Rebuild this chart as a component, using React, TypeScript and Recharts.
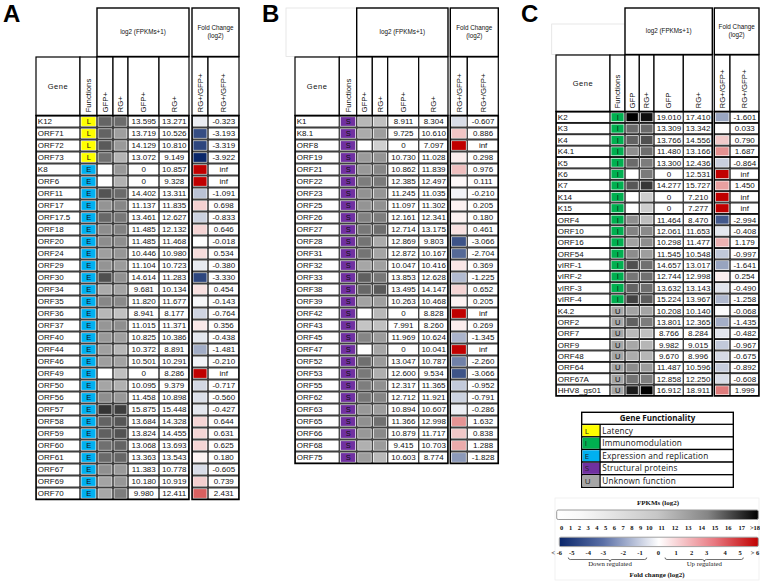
import React from 'react';
import { ScatterChart, Scatter, XAxis, YAxis } from 'recharts';

const W = 760;
const H = 581;
const SANS = '"Liberation Sans", Arial, sans-serif';
const SERIF = '"Liberation Serif", "Times New Roman", serif';
const LEG = '"Open Sans", "Noto Sans", sans-serif';
const INF = Infinity;

// ---------- Panel A : latency + expression/replication ----------
const genesA = ['K12', 'ORF71', 'ORF72', 'ORF73', 'K8', 'ORF6', 'ORF11', 'ORF17', 'ORF17.5', 'ORF18', 'ORF20', 'ORF24', 'ORF29', 'ORF30', 'ORF34', 'ORF35', 'ORF36', 'ORF37', 'ORF40', 'ORF44', 'ORF46', 'ORF49', 'ORF50', 'ORF56', 'ORF57', 'ORF58', 'ORF59', 'ORF60', 'ORF61', 'ORF67', 'ORF69', 'ORF70'];
const funcsA = ['L', 'L', 'L', 'L', 'E', 'E', 'E', 'E', 'E', 'E', 'E', 'E', 'E', 'E', 'E', 'E', 'E', 'E', 'E', 'E', 'E', 'E', 'E', 'E', 'E', 'E', 'E', 'E', 'E', 'E', 'E', 'E'];
const gfpA = [13.595, 13.719, 14.129, 13.072, 0, 0, 14.402, 11.137, 13.461, 11.485, 11.485, 10.446, 11.104, 14.614, 9.681, 11.820, 8.941, 11.015, 10.825, 10.372, 10.501, 0, 10.095, 11.458, 15.875, 13.684, 13.824, 13.068, 13.363, 11.383, 10.180, 9.980];
const rgA = [13.271, 10.526, 10.810, 9.149, 10.857, 9.328, 13.311, 11.835, 12.627, 12.132, 11.468, 10.980, 10.723, 11.283, 10.134, 11.677, 8.177, 11.371, 10.386, 8.891, 10.291, 8.286, 9.379, 10.898, 15.448, 14.328, 14.455, 13.693, 13.543, 10.778, 10.919, 12.411];
const fcA = [-0.323, -3.193, -3.319, -3.922, INF, INF, -1.091, 0.698, -0.833, 0.646, -0.018, 0.534, -0.380, -3.330, 0.454, -0.143, -0.764, 0.356, -0.438, -1.481, -0.210, INF, -0.717, -0.560, -0.427, 0.644, 0.631, 0.625, 0.180, -0.605, 0.739, 2.431];

// ---------- Panel B : structural proteins ----------
const genesB = ['K1', 'K8.1', 'ORF8', 'ORF19', 'ORF21', 'ORF22', 'ORF23', 'ORF25', 'ORF26', 'ORF27', 'ORF28', 'ORF31', 'ORF32', 'ORF33', 'ORF38', 'ORF39', 'ORF42', 'ORF43', 'ORF45', 'ORF47', 'ORF52', 'ORF53', 'ORF55', 'ORF62', 'ORF63', 'ORF65', 'ORF66', 'ORF68', 'ORF75'];
const funcsB = genesB.map(() => 'S');
const gfpB = [8.911, 9.725, 0, 10.730, 10.862, 12.385, 11.245, 11.097, 12.161, 12.714, 12.869, 12.872, 10.047, 13.853, 13.495, 10.263, 0, 7.991, 11.969, 0, 13.047, 12.600, 12.317, 12.712, 10.894, 11.366, 10.879, 9.415, 10.603];
const rgB = [8.304, 10.610, 7.097, 11.028, 11.839, 12.497, 11.035, 11.302, 12.341, 13.175, 9.803, 10.167, 10.416, 12.628, 14.147, 10.468, 8.828, 8.260, 10.624, 10.041, 10.787, 9.534, 11.365, 11.921, 10.607, 12.998, 11.717, 10.703, 8.774];
const fcB = [-0.607, 0.886, INF, 0.298, 0.976, 0.111, -0.210, 0.205, 0.180, 0.461, -3.066, -2.704, 0.369, -1.225, 0.652, 0.205, INF, 0.269, -1.345, INF, -2.260, -3.066, -0.952, -0.791, -0.286, 1.632, 0.838, 1.288, -1.828];

// ---------- Panel C : immunomodulation + unknown ----------
const genesC = ['K2', 'K3', 'K4', 'K4.1', 'K5', 'K6', 'K7', 'K14', 'K15', 'ORF4', 'ORF10', 'ORF16', 'ORF54', 'vIRF-1', 'vIRF-2', 'vIRF-3', 'vIRF-4', 'K4.2', 'ORF2', 'ORF7', 'ORF9', 'ORF48', 'ORF64', 'ORF67A', 'HHV8_gs01'];
const funcsC = ['I', 'I', 'I', 'I', 'I', 'I', 'I', 'I', 'I', 'I', 'I', 'I', 'I', 'I', 'I', 'I', 'I', 'U', 'U', 'U', 'U', 'U', 'U', 'U', 'U'];
const gfpC = [19.010, 13.309, 13.766, 11.480, 13.300, 0, 14.277, 0, 0, 11.464, 12.061, 10.298, 11.545, 14.657, 12.744, 13.632, 15.224, 10.208, 13.801, 8.766, 9.982, 9.670, 11.487, 12.858, 16.912];
const rgC = [17.410, 13.342, 14.556, 13.166, 12.436, 12.531, 15.727, 7.210, 7.277, 8.470, 11.653, 11.477, 10.548, 13.017, 12.998, 13.143, 13.967, 10.140, 12.365, 8.284, 9.015, 8.996, 10.596, 12.250, 18.911];
const fcC = [-1.601, 0.033, 0.790, 1.687, -0.864, INF, 1.450, INF, INF, -2.994, -0.408, 1.179, -0.997, -1.641, 0.254, -0.490, -1.258, -0.068, -1.435, -0.482, -0.967, -0.675, -0.892, -0.608, 1.999];

// ---------- header / legend texts ----------
const headsAB = ['GFP+', 'RG+', 'GFP+', 'RG+'];
const headsC = ['GFP', 'RG+', 'GFP', 'RG+'];
const legendCodes = ['L', 'I', 'E', 'S', 'U'];
const legendNames = ['Latency', 'Immunomodulation', 'Expression and replication', 'Structural proteins', 'Unknown function'];
const fpkmTicks = ['0', '1', '2', '3', '4', '5', '6', '7', '8', '9', '10', '11', '12', '13', '14', '15', '16', '17', '>18'];
const fcTicks = ['< -6', '-5', '-4', '-3', '-2', '-1', '0', '1', '2', '3', '4', '5', '> 6'];

// ---------- styling / layout (not data) ----------
const FUNC_COLORS: Record<string, string> = { L: '#ffff00', I: '#00b050', E: '#00b0f0', S: '#7030a0', U: '#a6a6a6' };
const fpkmTickX = [561.7, 570.5, 579.3, 588, 596.8, 605.5, 614.3, 623, 631.8, 640.5, 649.3, 661.7, 675, 688.3, 701.7, 715, 728.3, 741.7, 755];
const fcTickX = [556.7, 571.7, 588.3, 603.3, 623.3, 640, 658.3, 676, 691.7, 706.7, 725, 740, 755];

type Layout = {
  label: string; labelX: number; edges: number[];
  headTop: number; headBottom: number; rowsTop: number; rowsBottom: number;
  faint?: number[]; heads: string[];
};
type PanelData = { genes: string[]; funcs: string[]; gfp: number[]; rg: number[]; fc: number[] };

const layoutA: Layout = { label: 'A', labelX: 3, edges: [36, 80, 97, 113, 128, 159, 189, 192, 208, 239], headTop: 8, headBottom: 56.5, rowsTop: 115.5, rowsBottom: 499.5, heads: headsAB };
const layoutB: Layout = { label: 'B', labelX: 262, edges: [295, 339.3, 356.7, 372.3, 387.7, 418.7, 448, 450.3, 467.3, 498.3], headTop: 8, headBottom: 56.5, rowsTop: 115.5, rowsBottom: 463.5, faint: [286, 8, 357.7, 56.5], heads: headsAB };
const layoutC: Layout = { label: 'C', labelX: 521, edges: [556, 610, 625, 639.3, 654, 683.3, 712.3, 714.3, 730, 759], headTop: 8, headBottom: 54.5, rowsTop: 111.5, rowsBottom: 396, faint: [551.7, 24, 625, 54.5], heads: headsC };

const dataA: PanelData = { genes: genesA, funcs: funcsA, gfp: gfpA, rg: rgA, fc: fcA };
const dataB: PanelData = { genes: genesB, funcs: funcsB, gfp: gfpB, rg: rgB, fc: fcB };
const dataC: PanelData = { genes: genesC, funcs: funcsC, gfp: gfpC, rg: rgC, fc: fcC };

function grayFor(v: number): string {
  if (v <= 0) return '#ffffff';
  const t = Math.pow(Math.min(v / 18, 1), 1.8);
  const g = Math.round(255 * (1 - t));
  return `rgb(${g},${g},${g})`;
}
function fcColor(v: number): string {
  if (!isFinite(v)) return '#c00000';
  const t = Math.min(Math.abs(v) / 3.9, 1);
  const end = v < 0 ? [10, 38, 104] : [192, 0, 0];
  const m = (a: number) => Math.round(255 + (a - 255) * t);
  return `rgb(${m(end[0])},${m(end[1])},${m(end[2])})`;
}
const fmt = (v: number) => (!isFinite(v) ? 'inf' : v === 0 ? '0' : v.toFixed(3));

function buildCells(p: Layout, d: PanelData) {
  const e = p.edges;
  const left = e[0];
  const h = (p.rowsBottom - p.rowsTop) / d.genes.length;
  const cells: any[] = [];
  d.genes.forEach((g, i) => {
    const y = i + 0.5;
    const add = (a: number, b: number, extra: any) =>
      cells.push({ x: (e[a] + e[b]) / 2 - left, y, w: e[b] - e[a], h, ...extra });
    add(0, 1, { text: g, align: 'left' });
    add(1, 2, { fill: FUNC_COLORS[d.funcs[i]], text: d.funcs[i], small: true });
    add(2, 3, { fill: grayFor(d.gfp[i]) });
    add(3, 4, { fill: grayFor(d.rg[i]) });
    add(4, 5, { text: fmt(d.gfp[i]) });
    add(5, 6, { text: fmt(d.rg[i]) });
    add(7, 8, { fill: fcColor(d.fc[i]) });
    add(8, 9, { text: fmt(d.fc[i]) });
  });
  return cells;
}

const renderCell = (props: any) => {
  const { cx, cy, payload } = props;
  if (cx == null || cy == null || !payload) return <g />;
  const { w, h, fill, text, align, small } = payload;
  const x = cx - w / 2;
  const y = cy - h / 2;
  return (
    <g>
      <rect x={x} y={y} width={w} height={h} fill="#000" />
      <rect x={x + 0.6} y={y + 0.9} width={w - 1.2} height={h - 1.8} fill="#fff" />
      {fill && <rect x={x + 1.4} y={y + 1.6} width={w - 2.8} height={h - 3.2} fill={fill} />}
      {text && (
        <text
          x={align === 'left' ? x + 1.8 : cx + 0.3}
          y={cy + 2.9}
          textAnchor={align === 'left' ? 'start' : 'middle'}
          fontFamily={SANS}
          fontSize={small ? 7.5 : 8}
          fill="#111"
        >
          {text}
        </text>
      )}
    </g>
  );
};

function PanelChart({ p, d }: { p: Layout; d: PanelData }) {
  const width = p.edges[9] - p.edges[0];
  const cells = buildCells(p, d);
  return (
    <div style={{ position: 'absolute', left: p.edges[0], top: 0 }}>
      <ScatterChart width={width} height={H} margin={{ top: p.rowsTop, bottom: H - p.rowsBottom, left: 0, right: 0 }}>
        <XAxis type="number" dataKey="x" domain={[0, width]} hide allowDataOverflow />
        <YAxis type="number" dataKey="y" domain={[0, d.genes.length]} reversed hide allowDataOverflow />
        <Scatter data={cells} isAnimationActive={false} shape={renderCell} />
      </ScatterChart>
    </div>
  );
}

function PanelFrame({ p }: { p: Layout }) {
  const e = p.edges;
  const colTop = p.headBottom + 0.5;
  const colCells = [[0, 1], [1, 2], [2, 3], [3, 4], [4, 5], [5, 6], [7, 8], [8, 9]];
  const rotLabels = ['Functions', ...p.heads, 'RG+/GFP+', 'RG+/GFP+'];
  const headMid = (p.headTop + p.headBottom) / 2;
  return (
    <g>
      <text x={p.labelX} y={22} fontFamily={SANS} fontWeight={700} fontSize={24} fill="#000">{p.label}</text>
      {p.faint && (
        <rect x={p.faint[0]} y={p.faint[1]} width={p.faint[2] - p.faint[0]} height={p.faint[3] - p.faint[1]} fill="none" stroke="#e2e2e2" strokeWidth={0.8} />
      )}
      <rect x={e[2]} y={p.headTop} width={e[6] - e[2]} height={p.headBottom - p.headTop} fill="#fff" stroke="#000" strokeWidth={1.4} />
      <rect x={e[7]} y={p.headTop} width={e[9] - e[7]} height={p.headBottom - p.headTop} fill="#fff" stroke="#000" strokeWidth={1.4} />
      <text x={(e[2] + e[6]) / 2} y={headMid + 2.2} textAnchor="middle" fontFamily={SANS} fontSize={6.3} fill="#111">log2 (FPKMs+1)</text>
      <text x={(e[7] + e[9]) / 2} y={headMid - 2} textAnchor="middle" fontFamily={SANS} fontSize={6.3} fill="#111">Fold Change</text>
      <text x={(e[7] + e[9]) / 2} y={headMid + 6.2} textAnchor="middle" fontFamily={SANS} fontSize={6.3} fill="#111">(log2)</text>
      {colCells.map(([a, b], k) => (
        <rect key={k} x={e[a]} y={colTop} width={e[b] - e[a]} height={p.rowsTop - colTop} fill="#fff" stroke="#000" strokeWidth={1.2} />
      ))}
      <text x={(e[0] + e[1]) / 2} y={(colTop + p.rowsTop) / 2 + 2.5} textAnchor="middle" fontFamily={SANS} fontSize={7.5} letterSpacing={0.6} fill="#111">Gene</text>
      {colCells.slice(1).map(([a, b], k) => {
        const cx = (e[a] + e[b]) / 2 + 2.8;
        return (
          <text key={k} transform={`translate(${cx},${p.rowsTop - 3}) rotate(-90)`} fontFamily={SANS} fontSize={7.8} fill="#111">
            {rotLabels[k]}
          </text>
        );
      })}
      <rect x={e[0]} y={p.rowsTop} width={e[6] - e[0]} height={p.rowsBottom - p.rowsTop} fill="none" stroke="#000" strokeWidth={1.5} />
      <rect x={e[7]} y={p.rowsTop} width={e[9] - e[7]} height={p.rowsBottom - p.rowsTop} fill="none" stroke="#000" strokeWidth={1.5} />
    </g>
  );
}

function Legends() {
  const lx0 = 581.7, lx1 = 733.3, ly0 = 412.3, titleH = 12, rowH = 12.6, sw = 17.6;
  return (
    <g>
      <rect x={lx0} y={ly0} width={lx1 - lx0} height={titleH + rowH * 5} fill="#fff" stroke="#000" strokeWidth={1.4} />
      <text x={(lx0 + lx1) / 2} y={ly0 + 9} textAnchor="middle" fontFamily={LEG} fontWeight={700} fontSize={8} fill="#111">Gene Functionality</text>
      {legendCodes.map((c, i) => {
        const y = ly0 + titleH + rowH * i;
        return (
          <g key={c}>
            <rect x={lx0} y={y} width={lx1 - lx0} height={rowH} fill="#fff" stroke="#000" strokeWidth={1.3} />
            <rect x={lx0 + 0.8} y={y + 0.8} width={sw} height={rowH - 1.6} fill={FUNC_COLORS[c]} />
            <line x1={lx0 + sw + 0.8} x2={lx0 + sw + 0.8} y1={y} y2={y + rowH} stroke="#000" strokeWidth={1.2} />
            <text x={lx0 + 3} y={y + rowH / 2 + 3} fontFamily={LEG} fontSize={8} fill="#222">{c}</text>
            <text x={602.3} y={y + rowH / 2 + 3} fontFamily={LEG} fontSize={8.2} letterSpacing={0.2} fill="#111">{legendNames[i]}</text>
          </g>
        );
      })}

      <rect x={555} y={498} width={204} height={82} fill="none" stroke="#eeeeee" strokeWidth={0.8} />
      <defs>
        <linearGradient id="grayGrad" x1="0" x2="1" y1="0" y2="0">
          <stop offset="0" stopColor="#ffffff" />
          <stop offset="0.12" stopColor="#f8f8f8" />
          <stop offset="0.5" stopColor="#c6c6c6" />
          <stop offset="0.75" stopColor="#858585" />
          <stop offset="0.92" stopColor="#2a2a2a" />
          <stop offset="1" stopColor="#000000" />
        </linearGradient>
        <linearGradient id="fcGrad" x1="0" x2="1" y1="0" y2="0">
          <stop offset="0" stopColor="#0a266a" />
          <stop offset="0.22" stopColor="#5a6fa6" />
          <stop offset="0.5" stopColor="#ffffff" />
          <stop offset="0.78" stopColor="#e87880" />
          <stop offset="1" stopColor="#c00000" />
        </linearGradient>
      </defs>
      <text x={658} y={505} textAnchor="middle" fontFamily={SERIF} fontWeight={700} fontSize={7} fill="#111">FPKMs (log2)</text>
      <rect x={556.7} y={510} width={201.6} height={9.5} rx={1.5} fill="url(#grayGrad)" stroke="#9a9a9a" strokeWidth={1} />
      {fpkmTicks.map((t, i) => (
        <text key={t} x={fpkmTickX[i]} y={529.5} textAnchor="middle" fontFamily={SERIF} fontWeight={700} fontSize={6.5} fill="#111">{t}</text>
      ))}
      <rect x={559.3} y={537.2} width={199} height={9.4} rx={1.5} fill="url(#fcGrad)" stroke="#a0a0a0" strokeWidth={1} />
      {fcTicks.map((t, i) => (
        <text key={t} x={fcTickX[i]} y={555} textAnchor="middle" fontFamily={SERIF} fontWeight={700} fontSize={6.5} fill="#111">{t}</text>
      ))}
      <path d="M568.3,557.5 Q568.3,559.5 570.3,559.5 L608,559.5 Q610,559.5 610,561.5 Q610,559.5 612,559.5 L644.7,559.5 Q646.7,559.5 646.7,557.5" fill="none" stroke="#333" strokeWidth={0.7} />
      <path d="M665,557.5 Q665,559.5 667,559.5 L702.3,559.5 Q704.3,559.5 704.3,561.5 Q704.3,559.5 706.3,559.5 L741.3,559.5 Q743.3,559.5 743.3,557.5" fill="none" stroke="#333" strokeWidth={0.7} />
      <text x={610} y={566} textAnchor="middle" fontFamily={SERIF} fontSize={6.8} fill="#222">Down regulated</text>
      <text x={704.3} y={566} textAnchor="middle" fontFamily={SERIF} fontSize={6.8} fill="#222">Up regulated</text>
      <text x={657} y={576.5} textAnchor="middle" fontFamily={SERIF} fontWeight={700} fontSize={7} fill="#111">Fold change (log2)</text>
    </g>
  );
}

export default function App() {
  return (
    <div style={{ position: 'absolute', left: 0, top: 0, width: W, height: H, background: '#fff', overflow: 'hidden' }}>
      <PanelChart p={layoutA} d={dataA} />
      <PanelChart p={layoutB} d={dataB} />
      <PanelChart p={layoutC} d={dataC} />
      <svg width={W} height={H} style={{ position: 'absolute', left: 0, top: 0, pointerEvents: 'none' }}>
        <PanelFrame p={layoutA} />
        <PanelFrame p={layoutB} />
        <PanelFrame p={layoutC} />
        <Legends />
      </svg>
    </div>
  );
}
